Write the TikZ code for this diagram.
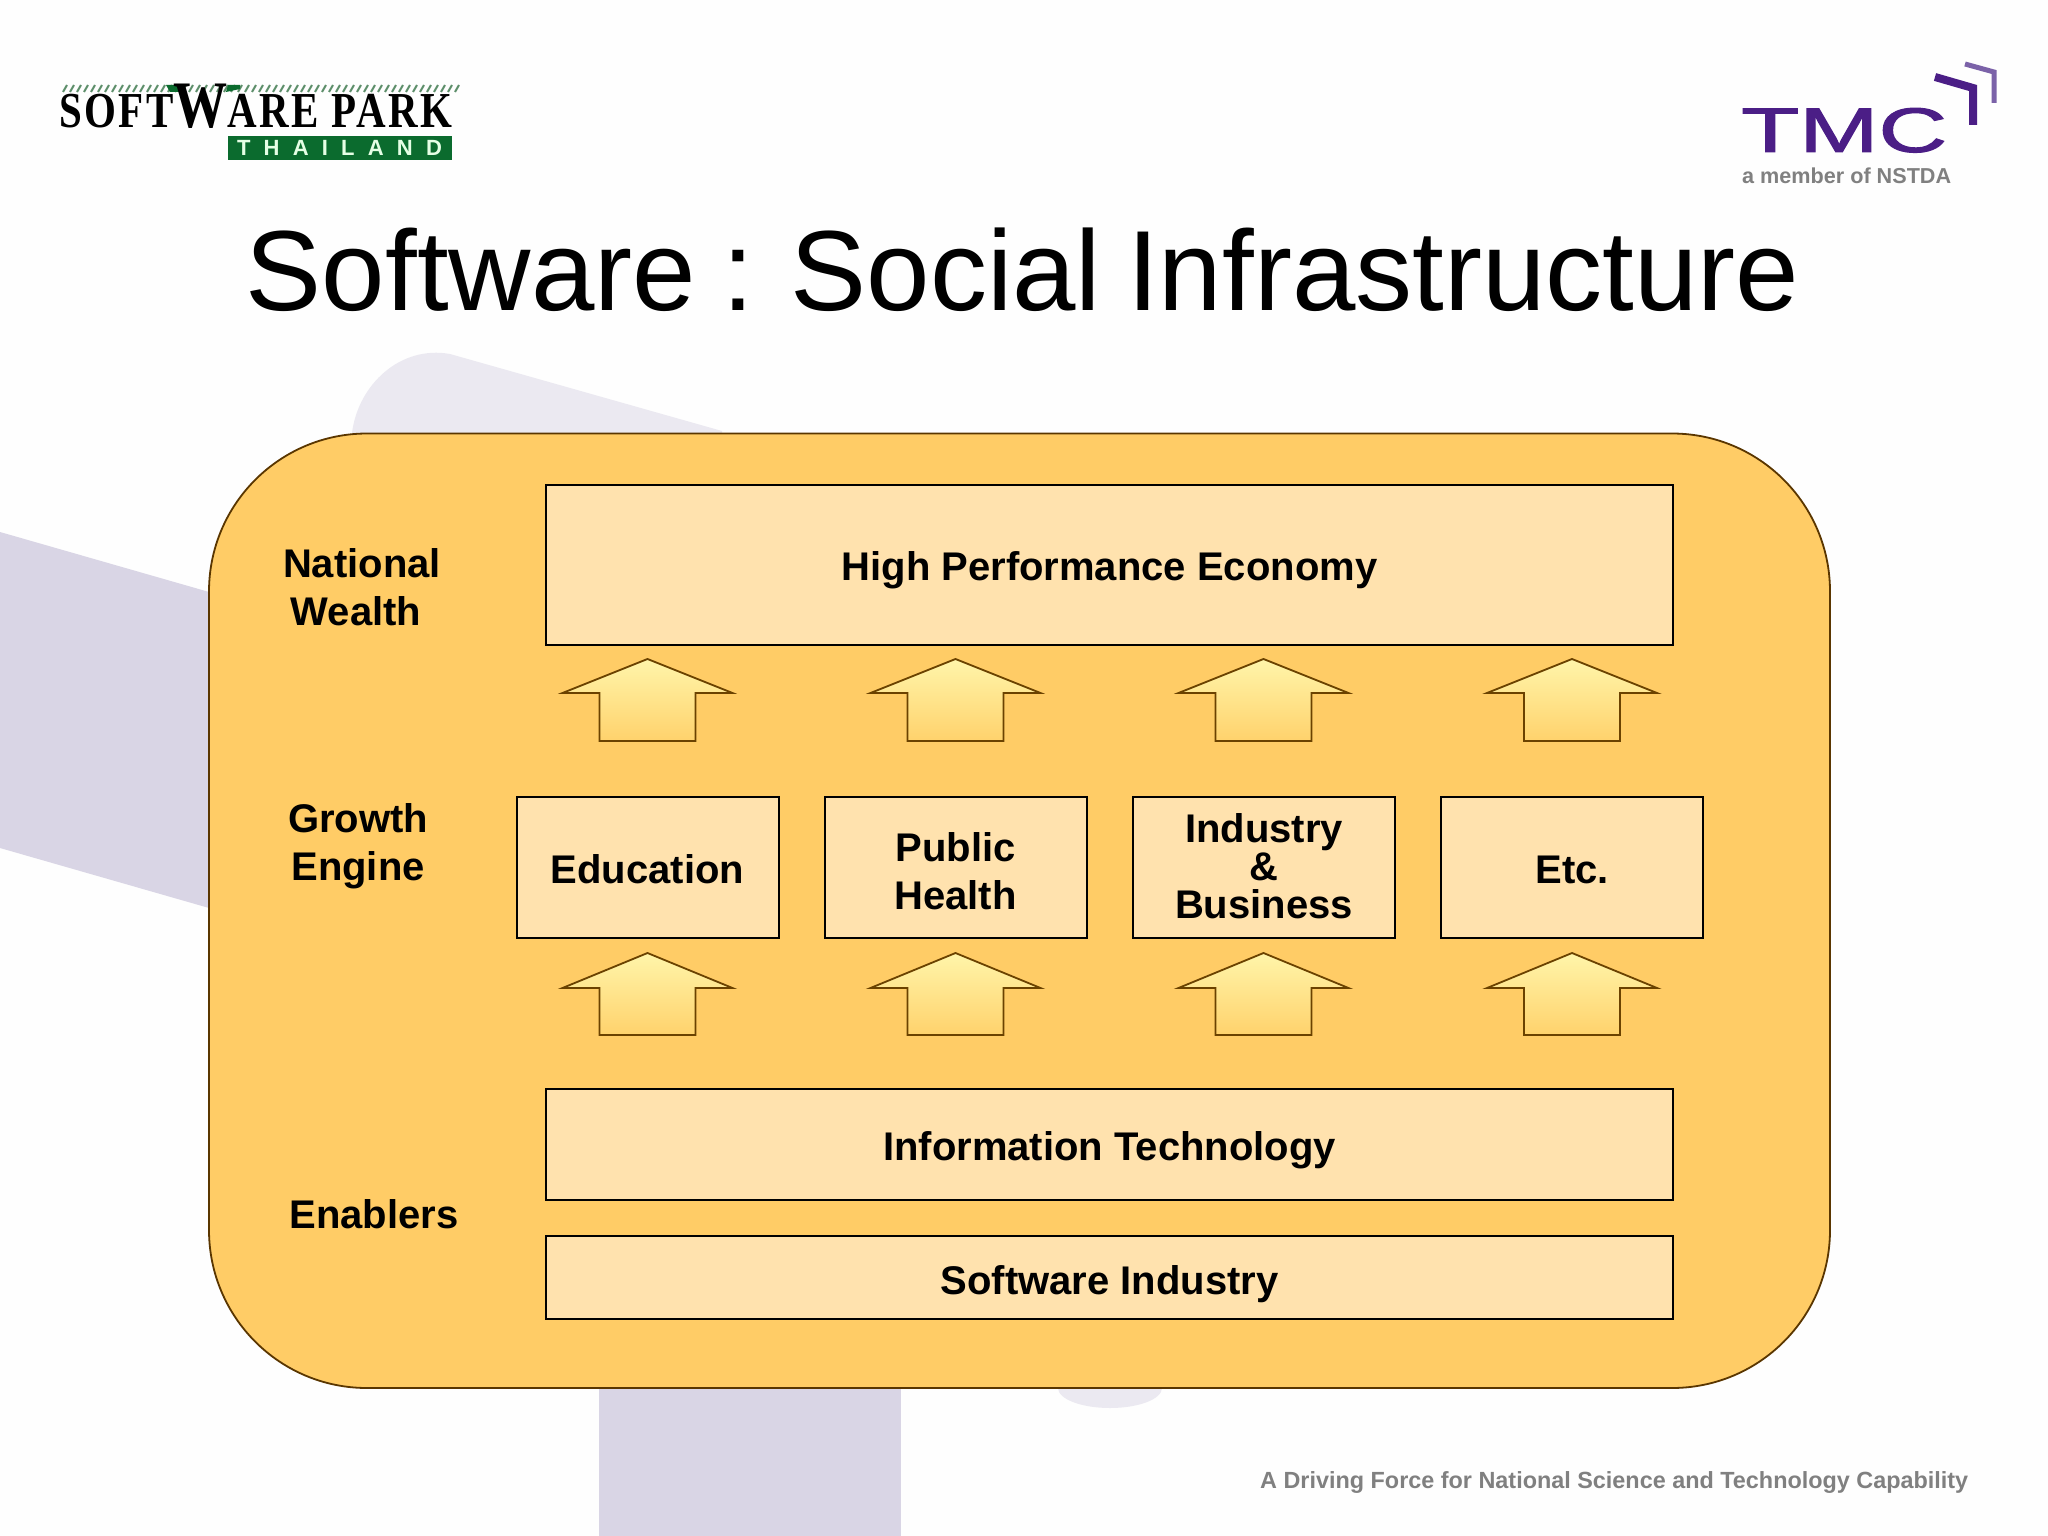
\documentclass[tikz,border=0pt]{standalone}
\usepackage{fontspec}
\usepackage{graphicx}
\setmainfont{Liberation Sans}
\newfontfamily\logoserif[LetterSpace=6]{Liberation Serif}
\newfontfamily\wideTH[LetterSpace=60]{Liberation Sans}
\newfontfamily\tmcfont[FakeBold=1.5]{Liberation Sans}
\definecolor{paper}{HTML}{FEFEFE}
\definecolor{lilac}{HTML}{D9D5E5}
\definecolor{lilacfaint}{HTML}{EBE9F1}
\definecolor{panelfill}{HTML}{FFCC66}
\definecolor{panelline}{HTML}{5A3600}
\definecolor{boxfill}{HTML}{FFE2AE}
\definecolor{arrowtop}{HTML}{FFF5AA}
\definecolor{arrowbot}{HTML}{FFD26C}
\definecolor{arrowline}{HTML}{6B4200}
\definecolor{parkgreen}{HTML}{0B6B2E}
\definecolor{hatchgreen}{HTML}{5E8F6B}
\definecolor{tmcpurple}{HTML}{4B1E86}
\definecolor{tmclight}{HTML}{7B62A8}
\definecolor{taggray}{HTML}{808080}
\tikzset{
  bigfont/.style={font=\fontsize{40}{48}\selectfont\bfseries},
  panelbox/.style={draw=black,line width=2pt,fill=boxfill,align=center,bigfont,inner sep=0pt},
  wide/.style={panelbox,minimum width=1127pt},
  mid/.style={panelbox,minimum width=262pt,minimum height=141pt},
  oneline/.style={text height=32pt,text depth=0pt},
  sidelabel/.style={bigfont,align=center,inner sep=0pt},
  blockarrow/.style={draw=arrowline,line width=1.8pt,line join=miter,top color=arrowtop,bottom color=arrowbot},
}
\begin{document}
\begin{tikzpicture}[x=1pt,y=-1pt]
\useasboundingbox (0,0) rectangle (2048,1536);
\fill[paper] (0,0) rectangle (2048,1536);
% background shapes
\fill[lilacfaint] (352,433) .. controls (358,385) and (400,345) .. (450,354) -- (722,431) -- (722,460) -- (352,460) -- cycle;
\fill[lilacfaint] (1110,1388) ellipse [x radius=52pt,y radius=20pt];
\fill[lilac] (0,532) -- (230,598) -- (230,914) -- (0,848) -- cycle;
\fill[lilac] (599,1370) rectangle (901,1536);
% logos
\foreach \hx in {63,70,...,455} \draw[hatchgreen,line width=2pt] (\hx,92) -- (\hx+4,85);
\fill[parkgreen] (166,85) -- (186,85) -- (181,92) -- (170,92) -- cycle;
\fill[parkgreen] (228,85) -- (240,85) -- (240,89) -- (226,92) -- cycle;
\node[anchor=south west,inner sep=0pt] (parkname) at (59,129) {\resizebox{393pt}{43pt}{\logoserif\bfseries\fontsize{50}{50}\selectfont SOFT\raisebox{-0.5pt}{\fontsize{66}{66}\selectfont W}ARE PARK}};
\node[fill=parkgreen,text=white!90!green,minimum width=224pt,minimum height=24pt,inner sep=0pt,font=\wideTH\bfseries\fontsize{22}{22}\selectfont] (parkland) at (339.5,148) {THAILAND};
\node[anchor=base west,inner sep=0pt,text=tmcpurple] (tmc) at (1741,152) {\resizebox{206pt}{44pt}{\tmcfont\fontsize{60}{60}\selectfont TMC}};
\draw[tmclight,line width=5pt] (1965,64) -- (1994,72) -- (1994,103);
\draw[tmcpurple,line width=8pt] (1935,77) -- (1973,88) -- (1973,125);
\node[anchor=base west,inner sep=0pt,text=taggray] (member) at (1742,183) {\resizebox{209pt}{!}{\fontsize{20}{20}\selectfont\bfseries a member of NSTDA}};
% title
\node[anchor=base,inner sep=0pt,font=\fontsize{114}{114}\selectfont] (title) at (1022.5,310) {\spaceskip=26.3pt Software : Social Infrastructure};
% panel
\draw[draw=panelline,line width=1.8pt,fill=panelfill,rounded corners=158pt] (209,433.5) rectangle (1830,1388);
% side labels
\node[sidelabel] (national) at (362,587) {National\\Wealth\hspace*{12pt}};
\node[sidelabel] (growth) at (358,846) {Growth\\Engine};
\node[sidelabel,anchor=base] (enablers) at (374,1228) {Enablers};
% boxes
\node[wide,oneline,minimum height=160pt] (high) at (1109.5,564.5) {High Performance Economy};
\node[mid,oneline] (edu) at (647.5,867.5) {Education};
\node[mid,text height=83pt,text depth=0pt] (pub) at (955.5,867.5) {Public\\Health};
\node[mid,font=\fontsize{40}{38}\selectfont\bfseries,text height=102.4pt,text depth=0pt] (ind) at (1264,867.5) {Industry\\\&\\Business};
\node[mid,oneline] (etc) at (1572,867.5) {Etc.};
\node[wide,oneline,minimum height=111pt] (it) at (1109.5,1144.5) {Information Technology};
\node[wide,oneline,text height=35pt,minimum height=83pt] (sw) at (1109.5,1277) {Software Industry};
% block arrows
\foreach \cx in {647.5,955.5,1263.5,1572}{
  \path[blockarrow,shift={(\cx,659)}] (0,0) -- (85,34) -- (48,34) -- (48,82) -- (-48,82) -- (-48,34) -- (-85,34) -- cycle;
  \path[blockarrow,shift={(\cx,953)}] (0,0) -- (85,35) -- (48,35) -- (48,82) -- (-48,82) -- (-48,35) -- (-85,35) -- cycle;
}
% tagline
\node[anchor=base west,inner sep=0pt,text=taggray] (tag) at (1260,1488) {\resizebox{708pt}{!}{\fontsize{24}{24}\selectfont\bfseries A Driving Force for National Science and Technology Capability}};
\end{tikzpicture}
\end{document}
